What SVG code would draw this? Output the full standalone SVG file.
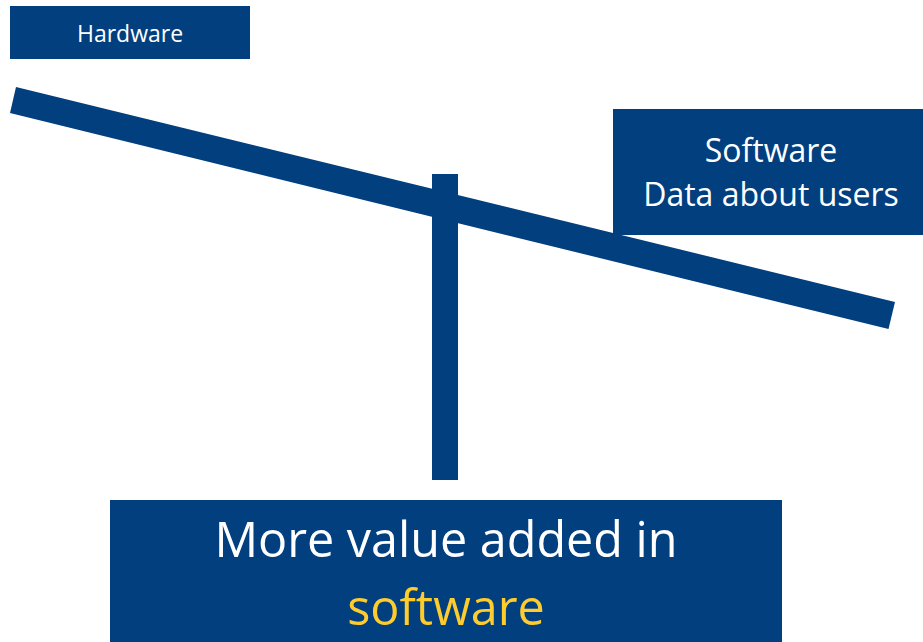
<svg xmlns="http://www.w3.org/2000/svg" width="923" height="642" viewBox="0 0 923 642">
<style>
.box{fill:#023F7F}
.t{font-family:"Open Sans","Noto Sans","Liberation Sans",sans-serif;fill:#ffffff;text-anchor:middle}
.y{fill:#FFCC2E}
</style>
<rect width="923" height="642" fill="#ffffff"/>
<g id="connectors">
<polygon class="box" points="16,87 895,302 888.5,329 10,113"/>
<rect class="box" x="432" y="174" width="26" height="306"/>
</g>
<g id="hardware">
<rect class="box" x="10" y="6" width="240" height="53"/>
<text class="t" x="130" y="42" font-size="23">Hardware</text>
</g>
<g id="software">
<rect class="box" x="613" y="109" width="310" height="126"/>
<text class="t" x="771" y="162" font-size="32">Software</text>
<text class="t" x="771" y="206" font-size="32">Data about users</text>
</g>
<g id="value">
<rect class="box" x="110" y="500" width="672" height="142"/>
<text class="t" x="446" y="557" font-size="48.5">More value added in</text>
<text class="t y" x="446" y="625" font-size="48.5">software</text>
</g>
</svg>
